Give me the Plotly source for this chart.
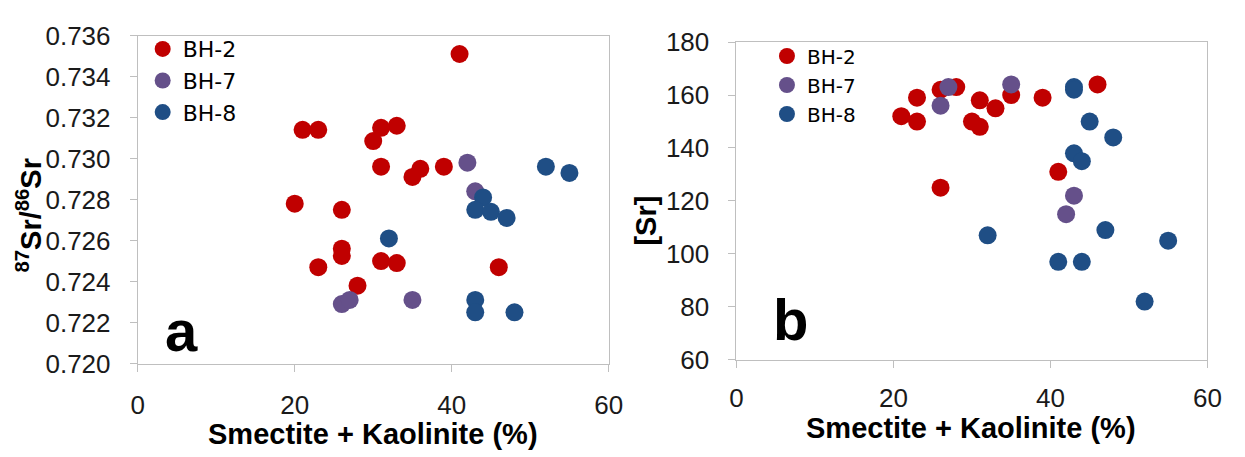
import plotly.graph_objects as go

W, H = 1245, 457

# ---------------- data: panel a (87Sr/86Sr) ----------------
a_bh2_x = [20, 21, 23, 41, 31, 33, 30, 31, 36, 35, 39, 26, 23, 26, 26, 31, 33, 28, 46]
a_bh2_y = [0.7278, 0.7314, 0.7314, 0.7351, 0.7315, 0.7316, 0.73085, 0.7296, 0.7295, 0.7291,
           0.7296, 0.7275, 0.7247, 0.7256, 0.72525, 0.7250, 0.7249, 0.7238, 0.7247]
a_bh7_x = [42, 43, 26, 27, 35]
a_bh7_y = [0.7298, 0.7284, 0.7229, 0.7231, 0.7231]
a_bh8_x = [52, 55, 44, 43, 45, 47, 32, 43, 43, 48]
a_bh8_y = [0.7296, 0.7293, 0.7281, 0.7275, 0.7274, 0.7271, 0.7261, 0.7231, 0.7225, 0.7225]

# ---------------- data: panel b ([Sr]) ----------------
b_bh2_x = [21, 23, 23, 26, 28, 31, 33, 30, 31, 35, 39, 46, 41, 26]
b_bh2_y = [152, 159, 150, 162, 163, 158, 155, 150, 148, 160, 159, 164, 131, 125]
b_bh7_x = [27, 26, 35, 43, 42]
b_bh7_y = [163, 156, 164, 122, 115]
b_bh8_x = [43, 43, 45, 48, 43, 44, 32, 47, 55, 41, 44, 52]
b_bh8_y = [163, 162, 150, 144, 138, 135, 107, 109, 105, 97, 97, 82]

series_names = ["BH-2", "BH-7", "BH-8"]
colors = ["#C00000", "#65508A", "#1F4E85"]

x_ticks = [0, 20, 40, 60]
a_y_ticks = [0.720, 0.722, 0.724, 0.726, 0.728, 0.730, 0.732, 0.734, 0.736]
b_y_ticks = [60, 80, 100, 120, 140, 160, 180]

fig = go.Figure()

panel_a = [(a_bh2_x, a_bh2_y), (a_bh7_x, a_bh7_y), (a_bh8_x, a_bh8_y)]
panel_b = [(b_bh2_x, b_bh2_y), (b_bh7_x, b_bh7_y), (b_bh8_x, b_bh8_y)]

for (xs, ys), name, c in zip(panel_a, series_names, colors):
    fig.add_trace(go.Scatter(x=xs, y=ys, mode="markers", name=name,
                             marker=dict(size=18, color=c, line=dict(width=0)),
                             xaxis="x", yaxis="y", legend="legend"))
for (xs, ys), name, c in zip(panel_b, series_names, colors):
    fig.add_trace(go.Scatter(x=xs, y=ys, mode="markers", name=name,
                             marker=dict(size=18, color=c, line=dict(width=0)),
                             xaxis="x2", yaxis="y2", legend="legend2"))

def px_x(p):
    return p / W

def px_y(p):
    return 1 - p / H

tick_font = dict(family="Liberation Sans, Arial", size=26, color="#1a1a1a")
axis_common = dict(showgrid=False, zeroline=False, showline=True, linecolor="#BFBFBF",
                   linewidth=1, mirror=True, ticks="outside", tickcolor="#BFBFBF",
                   ticklen=7, tickfont=tick_font)

fig.update_layout(
    width=W, height=H, autosize=False,
    margin=dict(l=0, r=0, t=0, b=0),
    paper_bgcolor="white", plot_bgcolor="white",
    xaxis=dict(domain=[px_x(133), px_x(612)], range=[0, 60], tickvals=x_ticks,
               anchor="y", ticklabelstandoff=11, **axis_common),
    yaxis=dict(domain=[px_y(373), px_y(22)], range=[0.720, 0.736], tickvals=a_y_ticks,
               tickformat=".3f", anchor="x", ticklabelstandoff=14, **axis_common),
    xaxis2=dict(domain=[px_x(742), px_x(1221)], range=[0, 60], tickvals=x_ticks,
                anchor="y2", ticklabelstandoff=8, **axis_common),
    yaxis2=dict(domain=[px_y(369), px_y(29)], range=[60, 180], tickvals=b_y_ticks,
                anchor="x2", ticklabelstandoff=14, **axis_common),
    legend=dict(x=px_x(138), y=px_y(14), xanchor="left", yanchor="top",
                bgcolor="rgba(0,0,0,0)", font=dict(family="DejaVu Sans", size=22, color="#000"),
                itemwidth=30, tracegroupgap=0),
    legend2=dict(x=px_x(773), y=px_y(23), xanchor="left", yanchor="top",
                 bgcolor="rgba(0,0,0,0)", font=dict(family="DejaVu Sans", size=20, color="#000"),
                 itemwidth=30, tracegroupgap=0),
    showlegend=True,
)

title_font = dict(family="Liberation Sans, Arial", size=29, color="#000")
bold = lambda s: "<b>" + s + "</b>"
annotations = [
    dict(text=bold("Smectite + Kaolinite (%)"), x=px_x(372), y=px_y(448), xref="paper", yref="paper",
         showarrow=False, xanchor="center", yanchor="middle", font=title_font),
    dict(text=bold("Smectite + Kaolinite (%)"), x=px_x(981), y=px_y(442), xref="paper", yref="paper",
         showarrow=False, xanchor="center", yanchor="middle", font=title_font),
    dict(text=bold("<sup>87</sup>Sr/<sup>86</sup>Sr"), x=px_x(22), y=px_y(215), xref="paper", yref="paper",
         showarrow=False, xanchor="center", yanchor="middle", textangle=-90, font=title_font),
    dict(text=bold("[Sr]"), x=px_x(650), y=px_y(220), xref="paper", yref="paper",
         showarrow=False, xanchor="center", yanchor="middle", textangle=-90, font=title_font),
    dict(text=bold("a"), x=px_x(178), y=px_y(338), xref="paper", yref="paper",
         showarrow=False, xanchor="center", yanchor="middle",
         font=dict(family="Liberation Sans, Arial", size=58, color="#000")),
    dict(text=bold("b"), x=px_x(797), y=px_y(326), xref="paper", yref="paper",
         showarrow=False, xanchor="center", yanchor="middle",
         font=dict(family="Liberation Sans, Arial", size=58, color="#000")),
]
fig.update_layout(annotations=annotations)

fig.write_html("out.html")
